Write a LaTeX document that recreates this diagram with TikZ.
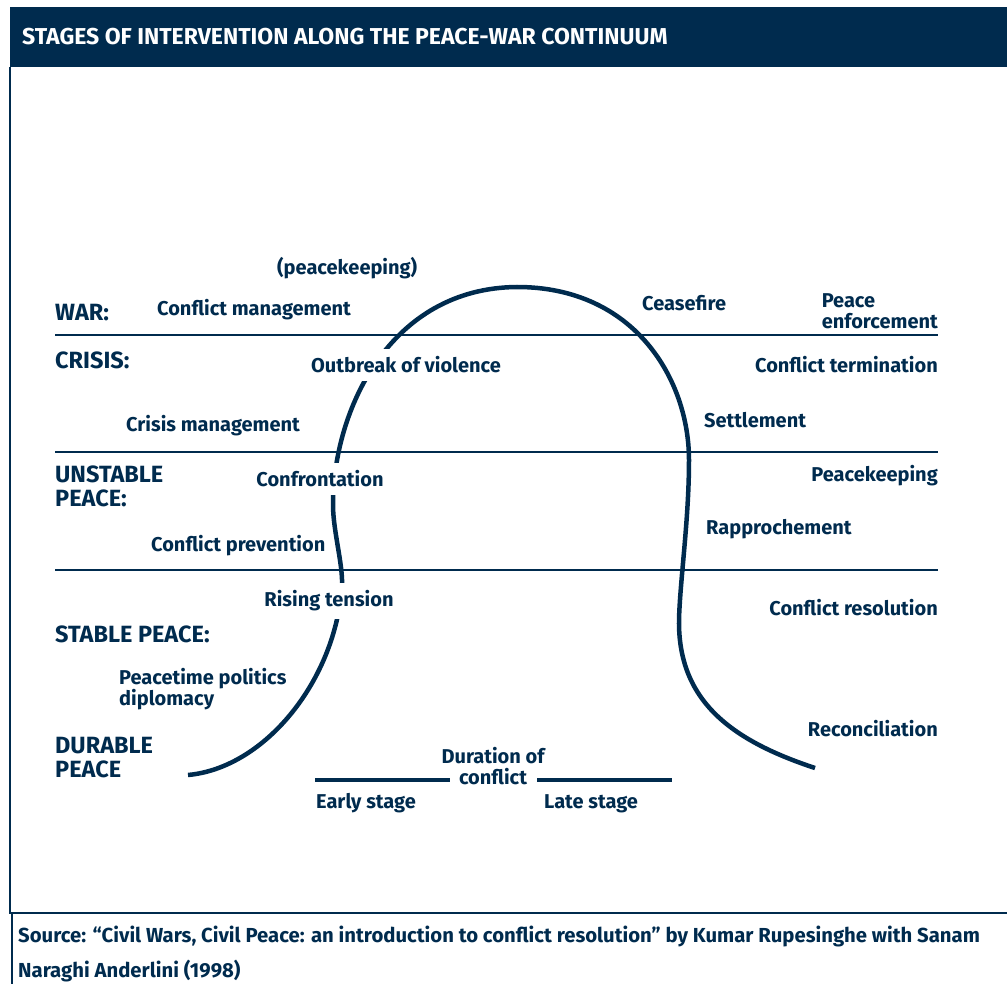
\documentclass[tikz,border=0pt]{standalone}
\usepackage{fontspec}
\setmainfont{Fira Sans}
\usetikzlibrary{positioning}

\definecolor{navy}{RGB}{0,43,78}

\tikzset{
  lab/.style={font=\bfseries\fontsize{20}{21}\selectfont, text=navy, inner sep=0pt},
  cat/.style={font=\bfseries\fontsize{23.5}{24}\selectfont, text=navy, inner sep=0pt, align=left},
  gaplab/.style={lab, fill=white, inner xsep=3pt, inner ysep=8pt},
  level/.style={navy, line width=2pt},
  hump/.style={navy, line width=4.5pt, line cap=butt},
  stage/.style={navy, line width=4pt}
}

\begin{document}
\begin{tikzpicture}[x=1pt, y=-1pt]

    \useasboundingbox (0,0) rectangle (1007,984);

    % Header band and frame
    \fill[navy] (10,7) rectangle (1007,67);
    \node[anchor=west, text=white, inner sep=0pt, font=\bfseries\fontsize{23}{24}\selectfont] (title) at (22,37)
        {STAGES OF INTERVENTION ALONG THE PEACE-WAR CONTINUUM};
    \draw[navy, line width=1.5pt] (10,67) -- (10,913) -- (1007,913);
    \draw[navy, line width=1.5pt] (12,913) -- (12,984);

    % Horizontal levels
    \draw[level] (55,335) -- (938,335);
    \draw[level] (55,452) -- (938,452);
    \draw[level] (55,570) -- (938,570);

    % The conflict curve
    \draw[hump] (188,775) .. controls (265,768) and (336,680) .. (342,585)
        .. controls (343,565) and (333,530) .. (333,505)
        .. controls (333,410) and (390,288) .. (517,287)
        .. controls (635,287) and (689,380) .. (689,460)
        .. controls (689,520) and (680,580) .. (679,620)
        .. controls (678,700) and (730,740) .. (815,768);

    % Level names
    \node[cat, anchor=west] (war) at (55,313) {WAR:};
    \node[cat, anchor=west] (crisis) at (55,360) {CRISIS:};
    \node[cat, anchor=west] (unstable) at (55,486) {UNSTABLE\\PEACE:};
    \node[cat, anchor=west] (stable) at (55,634) {STABLE PEACE:};
    \node[cat, anchor=west] (durable) at (55,758) {DURABLE\\PEACE};

    % Interventions, left side
    \node[lab, anchor=west] (pkeep) at (277,268) {(peacekeeping)};
    \node[lab, anchor=west] (cmanage) at (157,310) {Conflict management};
    \node[lab, anchor=west] (crmanage) at (126,426) {Crisis management};
    \node[lab, anchor=west] (cprevent) at (151,546) {Conflict prevention};
    \node[lab, anchor=west, align=left] (ptime) at (119,689) {Peacetime politics\\diplomacy};

    % Stages on the curve
    \node[gaplab] (outbreak) at (406,365) {Outbreak of violence};
    \node[gaplab] (confront) at (320,479) {Confrontation};
    \node[gaplab] (rising) at (329,601) {Rising tension};

    % Interventions, right side
    \node[lab, anchor=west] (ceasefire) at (642,303) {Ceasefire};
    \node[lab, anchor=east, align=left] (penforce) at (938,311) {Peace\\enforcement};
    \node[lab, anchor=east] (cterm) at (938,365) {Conflict termination};
    \node[lab, anchor=west] (settle) at (704,420) {Settlement};
    \node[lab, anchor=east] (pkeeping) at (938,476) {Peacekeeping};
    \node[lab, anchor=west] (rapproch) at (706,529) {Rapprochement};
    \node[lab, anchor=east] (cresolve) at (938,608) {Conflict resolution};
    \node[lab, anchor=east] (reconcile) at (938,729) {Reconciliation};

    % Duration axis
    \node[lab, align=center] (duration) at (493,766) {Duration of\\conflict};
    \coordinate (e1) at (315,780);
    \coordinate (e2) at (450,780);
    \coordinate (l1) at (537,780);
    \coordinate (l2) at (672,780);
    \draw[stage] (e1) -- (e2);
    \draw[stage] (l1) -- (l2);
    \node[lab, anchor=west] (early) at (316,803) {Early stage};
    \node[lab, anchor=west] (late) at (544,804) {Late stage};

    % Source
    \node[anchor=north west, align=left, text=navy, inner sep=0pt,
          font=\bfseries\fontsize{20.3}{35}\selectfont] (source) at (18,926)
        {Source: “Civil Wars, Civil Peace: an introduction to conflict resolution” by Kumar Rupesinghe with Sanam\\
         Naraghi Anderlini (1998)};

\end{tikzpicture}
\end{document}
